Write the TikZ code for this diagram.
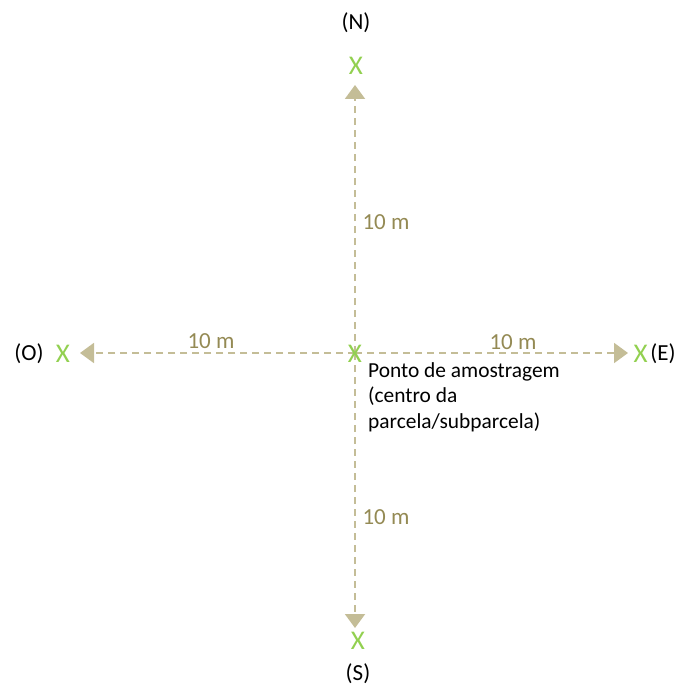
\documentclass[tikz,border=0pt]{standalone}
\usepackage{fontspec}
\setmainfont{Carlito}
\usetikzlibrary{arrows.meta}
\definecolor{tan}{RGB}{196,189,151}
\definecolor{olive}{RGB}{148,138,84}
\definecolor{leaf}{RGB}{146,208,80}
\tikzset{
  ray/.style={draw=tan, line width=2pt, dash pattern=on 7pt off 5pt,
    -{Triangle[length=14pt,width=20pt,fill=tan]}},
  cross/.style={text=leaf, font=\fontsize{27}{27}\selectfont, inner sep=0pt},
  dist/.style={text=olive, font=\fontsize{23}{23}\selectfont, inner sep=1pt},
  dir/.style={text=black, font=\fontsize{23}{23}\selectfont, inner sep=0pt}
}
\begin{document}
\begin{tikzpicture}[x=1pt,y=-1pt]
\useasboundingbox (0,0) rectangle (678,687);
% arrow tips
\coordinate (tn) at (355,85);
\coordinate (ts) at (355,628);
\coordinate (tw) at (80,353);
\coordinate (te) at (628,353);
\coordinate (c) at (355,353);
% dashed rays from the sampling point
\draw[ray] (c) -- (tn);
\draw[ray] (c) -- (ts);
\draw[ray] (c) -- (tw);
\draw[ray] (c) -- (te);
% crosses
\node[cross] (xc) at (355,354) {X};
\node[cross] (xn) at (356,66) {X};
\node[cross] (xs) at (358,641) {X};
\node[cross] (xw) at (63,354) {X};
\node[cross] (xe) at (640.5,354) {X};
% cardinal directions
\node[dir] (n) at (356,23) {(N)};
\node[dir] (s) at (358,674) {(S)};
\node[dir] (o) at (29,354) {(O)};
\node[dir] (e) at (663,354) {(E)};
% distances
\node[dist] (dn) at (386,222) {10 m};
\node[dist] (ds) at (386,517) {10 m};
\node[dist] (dw) at (211,341) {10 m};
\node[dist] (de) at (513,342) {10 m};
% sampling point label (anchored on the baseline of its last line)
\node[anchor=base west, align=left, inner sep=0pt,
  font=\fontsize{21.4}{25.5}\selectfont] (lbl) at (368,428)
  {Ponto de amostragem\\(centro da\\parcela/subparcela)};
\end{tikzpicture}
\end{document}
